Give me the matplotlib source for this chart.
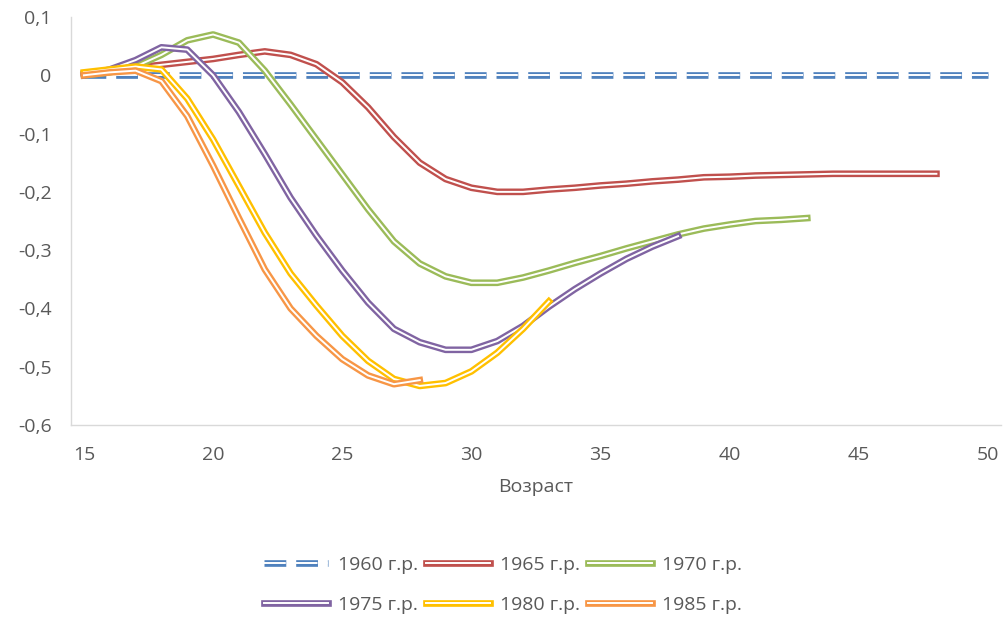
import matplotlib
matplotlib.use("Agg")
import matplotlib.pyplot as plt
import matplotlib.patheffects as pe
from matplotlib.ticker import FuncFormatter

# ---------------- DATA ----------------

ages_1960 = list(range(15, 51))
vals_1960 = [0.0] * len(ages_1960)

ages_1965 = list(range(15, 49))
vals_1965 = [0.003, 0.008, 0.013, 0.018, 0.023, 0.028, 0.035, 0.041, 0.035, 0.019,
             -0.012, -0.055, -0.106, -0.15, -0.178, -0.193, -0.2, -0.2, -0.196, -0.193,
             -0.189, -0.186, -0.182, -0.179, -0.175, -0.174, -0.172, -0.171, -0.17, -0.169,
             -0.169, -0.169, -0.169, -0.169]

ages_1970 = list(range(15, 44))
vals_1970 = [0.0, 0.005, 0.015, 0.035, 0.06, 0.07, 0.056, 0.008, -0.05, -0.11,
             -0.17, -0.23, -0.285, -0.323, -0.345, -0.356, -0.356, -0.347, -0.335, -0.322,
             -0.31, -0.297, -0.285, -0.273, -0.263, -0.256, -0.25, -0.248, -0.245]

ages_1975 = list(range(15, 39))
vals_1975 = [0.0, 0.01, 0.026, 0.048, 0.044, 0.0, -0.063, -0.135, -0.21, -0.275,
             -0.335, -0.39, -0.435, -0.458, -0.471, -0.471, -0.456, -0.43, -0.397, -0.367,
             -0.34, -0.315, -0.294, -0.276]

ages_1980 = list(range(15, 34))
vals_1980 = [0.005, 0.01, 0.015, 0.01, -0.04, -0.11, -0.19, -0.27, -0.34, -0.395,
             -0.447, -0.49, -0.521, -0.533, -0.528, -0.508, -0.476, -0.435, -0.388]

ages_1985 = list(range(15, 29))
vals_1985 = [0.0, 0.005, 0.008, -0.01, -0.07, -0.155, -0.245, -0.333, -0.4, -0.447,
             -0.487, -0.515, -0.53, -0.523]

labels = ["1960 г.р.", "1965 г.р.", "1970 г.р.", "1975 г.р.", "1980 г.р.", "1985 г.р."]
colors = ["#4F81BD", "#C0504D", "#9BBB59", "#8064A2", "#FFC000", "#F79646"]

series = [
    (ages_1960, vals_1960),
    (ages_1965, vals_1965),
    (ages_1970, vals_1970),
    (ages_1975, vals_1975),
    (ages_1980, vals_1980),
    (ages_1985, vals_1985),
]

# ---------------- PLOT ----------------

plt.rcParams["font.family"] = ["Open Sans", "DejaVu Sans"]
TEXT = "#595959"
FS = 14

fig = plt.figure(figsize=(10.06, 6.21), dpi=100)
ax = fig.add_axes([71 / 1006, 1 - 425 / 621, 930 / 1006, 408 / 621])

handles = []
for i, ((x, y), lab, col) in enumerate(zip(series, labels, colors)):
    # double ("compound") line: thick coloured stroke with a white core
    kw = dict(color="white", lw=1.4, label=lab, solid_joinstyle="round",
              path_effects=[pe.Stroke(linewidth=4.8, foreground=col), pe.Normal()],
              zorder=2 + i)
    if i == 0:
        kw.update(linestyle=(0, (11.2, 5.1)), dash_capstyle="butt")
    line, = ax.plot(x, y, **kw)
    handles.append(line)

ax.set_xlim(14.5, 50.5)
ax.set_ylim(-0.6, 0.1)
ax.set_xticks(range(15, 51, 5))
ax.set_yticks([0.1, 0.0, -0.1, -0.2, -0.3, -0.4, -0.5, -0.6])
ax.yaxis.set_major_formatter(FuncFormatter(
    lambda v, p: "0" if abs(v) < 1e-9 else f"{v:.1f}".replace(".", ",")))

ax.tick_params(length=0, labelsize=FS, labelcolor=TEXT)
ax.tick_params(axis="x", pad=15)
ax.tick_params(axis="y", pad=14)

for s in ["top", "right"]:
    ax.spines[s].set_visible(False)
for s in ["left", "bottom"]:
    ax.spines[s].set_color("#D9D9D9")
    ax.spines[s].set_linewidth(1.0)

ax.set_xlabel("Возраст", fontsize=FS, color=TEXT, labelpad=10)

# legend fills column-wise, so reorder to get row-wise reading
order = [0, 3, 1, 4, 2, 5]
fig.legend([handles[k] for k in order], [labels[k] for k in order],
           loc="center", bbox_to_anchor=(0.5, 0.058), ncol=3, frameon=False,
           fontsize=FS, labelcolor=TEXT, handlelength=3.3, handletextpad=0.5,
           columnspacing=0.4, labelspacing=1.1)

fig.savefig("out.png", dpi=100)
